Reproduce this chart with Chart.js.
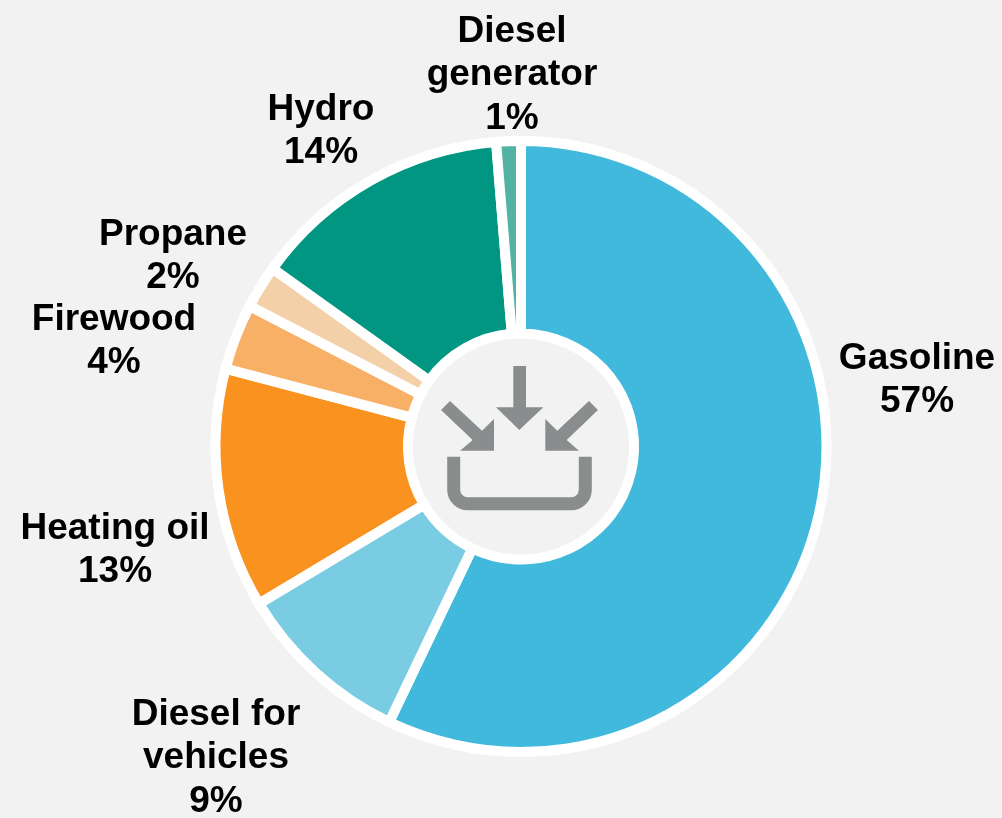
<!DOCTYPE html>
<html>
<head>
<meta charset="utf-8">
<title>Energy sources</title>
<script src="https://cdn.jsdelivr.net/npm/chart.js@4"></script>
<style>
  html, body { margin: 0; padding: 0; background: #f2f2f2; overflow: hidden; }
  #wrap { width: 1002px; height: 818px; }
</style>
</head>
<body>
<div id="wrap"><canvas id="energyChart" width="1002" height="818"></canvas></div>
<script>
// Shares; printed labels are these rounded
var categories = ['Gasoline', 'Diesel for vehicles', 'Heating oil', 'Firewood', 'Propane', 'Hydro', 'Diesel generator'];
var shares = [57.1, 9.3, 12.7, 3.5, 2.3, 13.8, 1.3];
var percentLabels = ['57%', '9%', '13%', '4%', '2%', '14%', '1%'];
var sliceColors = ['#41b9dc', '#7acce2', '#fa9220', '#f7b066', '#f4d0a8', '#009681', '#52b2a4'];

// Label text lines and where they sit (center x, first baseline y)
var labelLines = [['Gasoline'], ['Diesel for', 'vehicles'], ['Heating oil'], ['Firewood'], ['Propane'], ['Hydro'], ['Diesel', 'generator']];
var labelSpots = [[917, 369], [216, 725], [115, 539], [114, 330], [173, 245], [321, 120], [512, 42]];

function polygon(ctx, pts) {
    ctx.beginPath();
    pts.forEach(function (p, i) {
        if (i === 0) ctx.moveTo(p[0], p[1]); else ctx.lineTo(p[0], p[1]);
    });
    ctx.closePath();
    ctx.fill();
}

// Center icon: three arrows going into a tray
function drawIcon(ctx) {
    ctx.save();
    ctx.fillStyle = '#8a8d8d';
    ctx.strokeStyle = '#8a8d8d';
    polygon(ctx, [[513.3, 366], [526, 366], [526, 407.3], [543.3, 407.3], [519.3, 430], [496, 407.3], [513.3, 407.3]]);
    polygon(ctx, [[450, 401], [482, 430.7], [494, 419], [494, 450.7], [460, 450.7], [472.7, 440], [441, 410]]);
    polygon(ctx, [[589, 401], [598, 410], [566.7, 440], [579, 450.7], [545.3, 450.7], [545.3, 419], [557.3, 430.7]]);
    ctx.lineWidth = 13;
    ctx.beginPath();
    ctx.moveTo(453.7, 456.7);
    ctx.arcTo(453.7, 503.7, 585.3, 503.7, 14);
    ctx.arcTo(585.3, 503.7, 585.3, 456.7, 14);
    ctx.lineTo(585.3, 456.7);
    ctx.stroke();
    ctx.restore();
}

var labelsPlugin = {
    id: 'sliceLabels',
    afterDraw: function (chart) {
        var ctx = chart.ctx;
        drawIcon(ctx);
        ctx.save();
        ctx.font = 'bold 37px "Liberation Sans", Arial, sans-serif';
        ctx.fillStyle = '#000000';
        ctx.textAlign = 'center';
        ctx.textBaseline = 'alphabetic';
        categories.forEach(function (cat, i) {
            var lines = labelLines[i].concat(percentLabels[i]);
            lines.forEach(function (txt, j) {
                ctx.fillText(txt, labelSpots[i][0], labelSpots[i][1] + j * 43.3);
            });
        });
        ctx.restore();
    }
};

var ctxEnergy = document.getElementById('energyChart').getContext('2d');
var energyChart = new Chart(ctxEnergy, {
    type: 'doughnut',
    data: {
        labels: categories,
        datasets: [{
            data: shares,
            backgroundColor: sliceColors,
            borderColor: '#ffffff',
            borderWidth: 10,
            borderJoinStyle: 'miter',
            hoverOffset: 0
        }]
    },
    options: {
        responsive: false,
        animation: false,
        cutout: '37%',
        layout: { padding: { left: 210.5, right: 170.5, top: 136, bottom: 61 } },
        plugins: { legend: { display: false }, tooltip: { enabled: false } }
    },
    plugins: [labelsPlugin]
});
</script>
</body>
</html>
